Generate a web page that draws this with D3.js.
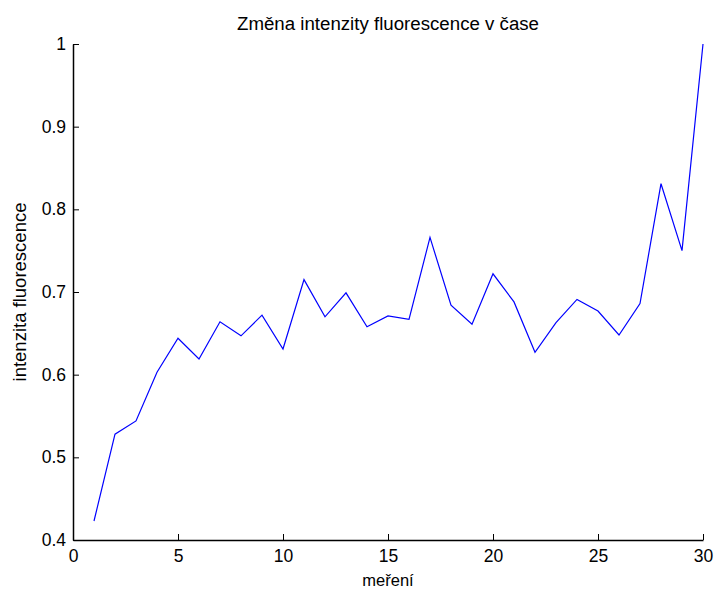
<!DOCTYPE html>
<html>
<head>
<meta charset="utf-8">
<script src="https://cdn.jsdelivr.net/npm/d3@7"></script>
<style>
  html, body { margin: 0; padding: 0; background: #fff; }
  svg { display: block; }
  text { font-family: "Liberation Sans", Arial, sans-serif; fill: #000; }
</style>
</head>
<body>
<svg id="chart" width="714" height="589"></svg>
<script>
// Measurement index (měření) and normalized fluorescence intensity
const mereni = d3.range(1, 31);
const intenzita = [
  0.423, 0.528, 0.544, 0.603, 0.644, 0.619, 0.664, 0.647, 0.672, 0.631,
  0.715, 0.670, 0.699, 0.658, 0.671, 0.667, 0.766, 0.684, 0.661, 0.722,
  0.688, 0.627, 0.663, 0.691, 0.677, 0.648, 0.686, 0.831, 0.750, 1.000
];
const xTicks = [0, 5, 10, 15, 20, 25, 30];
const yTicks = [0.4, 0.5, 0.6, 0.7, 0.8, 0.9, 1];

const titleText = "Změna intenzity fluorescence v čase";
const xLabel = "meření";
const yLabel = "intenzita fluorescence";

const svg = d3.select("#chart");
const plot = { left: 73, right: 703, top: 44, bottom: 540 };

const x = d3.scaleLinear().domain([0, 30]).range([plot.left, plot.right]);
const y = d3.scaleLinear().domain([0.4, 1]).range([plot.bottom, plot.top]);

// Axes with inward-pointing ticks
const xAxis = d3.axisBottom(x).tickValues(xTicks).tickSizeInner(-6).tickSizeOuter(0).tickPadding(9).tickFormat(d3.format("d"));
const yAxis = d3.axisLeft(y).tickValues(yTicks).tickSizeInner(-6).tickSizeOuter(0).tickPadding(7).tickFormat(d => d === 1 ? "1" : d3.format(".1f")(d));

const gx = svg.append("g").attr("transform", `translate(0,${plot.bottom})`).call(xAxis);
const gy = svg.append("g").attr("transform", `translate(${plot.left},0)`).call(yAxis);

[gx, gy].forEach(g => {
  g.select(".domain").attr("stroke", "#000").attr("stroke-width", 1.5);
  g.selectAll(".tick line").attr("stroke", "#000").attr("stroke-width", 1);
  g.selectAll(".tick text").attr("font-size", 17.5).attr("font-family", "Liberation Sans, Arial, sans-serif").attr("fill", "#111");
});
gx.selectAll(".tick text").attr("dy", "0.72em");

// Data line
const line = d3.line().x((d, i) => x(mereni[i])).y(d => y(d));
svg.append("path")
  .datum(intenzita)
  .attr("fill", "none")
  .attr("stroke", "#0000ff")
  .attr("stroke-width", 1.2)
  .attr("d", line);

// Title and axis labels
svg.append("text")
  .attr("x", (plot.left + plot.right) / 2).attr("y", 30)
  .attr("text-anchor", "middle").attr("font-size", 18)
  .attr("textLength", 302).attr("lengthAdjust", "spacingAndGlyphs")
  .text(titleText);

svg.append("text")
  .attr("x", (plot.left + plot.right) / 2).attr("y", 586)
  .attr("text-anchor", "middle").attr("font-size", 16.5)
  .text(xLabel);

svg.append("text")
  .attr("transform", `translate(26,${(plot.top + plot.bottom) / 2}) rotate(-90)`)
  .attr("text-anchor", "middle").attr("font-size", 18.5)
  .text(yLabel);
</script>
</body>
</html>
